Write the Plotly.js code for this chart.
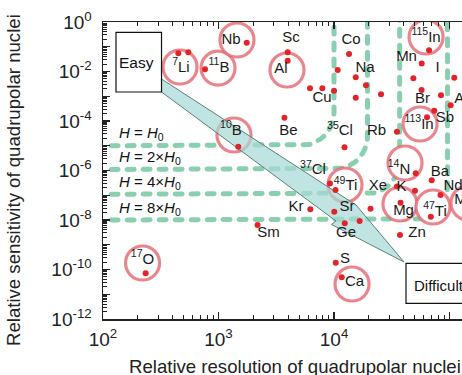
<!DOCTYPE html>
<html><head><meta charset="utf-8">
<script src="https://cdn.plot.ly/plotly-3.0.1.min.js"></script>
<style>html,body{margin:0;padding:0;background:#fff;}#chart{width:462px;height:375px;}</style>
</head><body><div id="chart"></div>
<script>
// ---- nuclei (red dots): resolution (x), sensitivity (y)
const dotX = [449, 548, 764, 1754, 3972, 3972, 13490, 10760, 15420, 18920, 25530, 15420,
  6194, 7925, 10000, 3724, 66530, 57410, 48640, 109900, 57280, 84330, 102300, 73790, 63830,
  35080, 12330, 1483, 50930, 70150, 35080, 50230, 83560, 9226, 10300, 20700, 6237, 10050,
  12390, 16670, 37670, 68870, 37240, 2178, 234, 10350, 11670];
const dotY = [0.0543, 0.0597, 0.0123, 0.146, 0.0597, 0.0273, 0.0509, 0.0115, 0.00583, 0.00277, 0.0012, 8.73e-4,
  2.09e-3, 2.09e-3, 1.67e-3, 1.36e-4, 0.0719, 0.0210, 5.36e-3, 5.61e-3, 1.79e-3, 1.10e-3, 4.31e-4, 2.58e-4, 1.41e-4,
  3.70e-5, 8.73e-6, 9.16e-6, 7.71e-7, 4.02e-7, 2.26e-7, 1.53e-7, 1.02e-7, 2.99e-7, 1.63e-7, 2.86e-8, 2.70e-8, 2.16e-8,
  7.36e-9, 9.12e-9, 5.00e-8, 1.36e-8, 2.48e-9, 6.28e-9, 7.02e-11, 1.88e-10, 4.84e-11];

// ---- element labels
const labelText = ['<sup>7</sup>Li', '<sup>11</sup>B', 'Nb', 'Al', 'Sc', 'Co', 'Na', 'Cu',
  '<sup>115</sup>In', 'Mn', 'I', 'Br', 'As', 'Sb', '<sup>113</sup>In', 'Rb', '<sup>35</sup>Cl', 'Be',
  '<sup>10</sup>B', '<sup>37</sup>Cl', '<sup>49</sup>Ti', '<sup>14</sup>N', 'Ba', 'Xe', 'K', 'Nd',
  'Kr', 'Sr', 'Mg', '<sup>47</sup>Ti', 'Mo', 'Ge', 'Zn', 'Sm', '<sup>17</sup>O', 'S', 'Ca'];
const labelX = [473, 1009, 1282, 3475, 4245, 14030, 18540, 7870,
  62670, 42460, 78700, 58340, 110000, 91450, 54450, 23330, 11270, 4036,
  1282, 6577, 12590, 36560, 82790, 24050, 38370, 88500,
  4690, 12970, 39990, 74820, 110000, 12700, 52360, 2710, 220, 12450, 15070];
const labelY = [0.0138, 0.0138, 0.1874, 0.0126, 0.2155, 0.1874, 0.0138, 8.11e-4,
  0.226, 0.0385, 0.0138, 7.74e-4, 7.74e-4, 1.26e-4, 6.89e-5, 3.77e-5, 3.77e-5, 3.94e-5,
  3.94e-5, 9.82e-7, 2.21e-7, 1.05e-6, 8.30e-7, 2.26e-7, 2.15e-7, 2.36e-7,
  3.20e-8, 3.20e-8, 2.31e-8, 2.11e-8, 6.2e-8, 2.85e-9, 2.99e-9, 2.85e-9, 2.42e-10, 2.58e-10, 3.13e-11];
const labelPos = labelText.map(t => (t === 'As' || t === 'Nd' || t === 'Mo') ? 'middle right' : 'middle center');

// ---- highlighted nuclei (circles)
const circleX = [464, 991, 1445, 3917, 62670, 55590, 1361, 12450, 41170, 37240, 71940, 144500, 220, 14320];
const circleY = [0.0152, 0.0138, 0.1874, 0.0115, 0.248, 7.57e-5, 2.72e-5, 2.60e-7, 2.01e-6, 4.43e-8, 3.35e-8, 4.86e-8, 1.83e-10, 2.59e-11];

// ---- magnetic field boundaries
const fieldNames = ['<i>H</i> = <i>H</i><sub>0</sub>', '<i>H</i> = 2×<i>H</i><sub>0</sub>',
  '<i>H</i> = 4×<i>H</i><sub>0</sub>', '<i>H</i> = 8×<i>H</i><sub>0</sub>'];
const fieldSensY = [1e-5, 1.1e-6, 1.1e-7, 1e-8];
const fieldResX = [1e4, 1.95e4, 3.7e4, 9.6e4];

// ---- axis ticks
const xTickVals = [1e2, 1e3, 1e4, 1e5];
const xTickText = ['10<sup>2</sup>', '10<sup>3</sup>', '10<sup>4</sup>', '10<sup>5</sup>'];
const yTickVals = [1e-12, 1e-11, 1e-10, 1e-9, 1e-8, 1e-7, 1e-6, 1e-5, 1e-4, 1e-3, 1e-2, 1e-1, 1];
const yTickText = ['10<sup>-12</sup>', '', '10<sup>-10</sup>', '', '10<sup>-8</sup>', '', '10<sup>-6</sup>', '',
  '10<sup>-4</sup>', '', '10<sup>-2</sup>', '', '10<sup>0</sup>'];

// ---- decoration: easy -> difficult arrow outline (log10 units)
const arrowLX = [2.5065, 4.1905, 4.606, 3.978, 4.017, 2.5065];
const arrowLY = [-2.303, -7.394, -9.697, -8.182, -8.040, -2.828];

const FONT = 'Liberation Sans, Arial, sans-serif';
const traces = [];

// field boundary curves (horizontal -> rounded corner -> vertical)
const rx = 0.29, ry = 1.36;
fieldNames.forEach((n, i) => {
  const lxv = Math.log10(fieldResX[i]), lyh = Math.log10(fieldSensY[i]);
  const xs = [2.07, lxv - rx], ys = [lyh, lyh];
  for (let k = 1; k <= 12; k++) {
    const t = k / 12 * Math.PI / 2;
    xs.push(lxv - rx + rx * Math.sin(t));
    ys.push(lyh + ry * (1 - Math.cos(t)));
  }
  xs.push(lxv); ys.push(0.3);
  traces.push({
    x: xs.map(v => Math.pow(10, v)), y: ys.map(v => Math.pow(10, v)),
    mode: 'lines', type: 'scatter', hoverinfo: 'skip',
    line: {color: 'rgb(138,208,176)', width: 5, dash: '7px,9px'}
  });
});

traces.push({
  x: circleX, y: circleY, mode: 'markers', type: 'scatter', hoverinfo: 'skip',
  marker: {symbol: 'circle', size: 34, color: '#ffffff', line: {color: 'rgba(228,104,112,0.8)', width: 3.2}}
});

traces.push({
  x: arrowLX.map(v => Math.pow(10, v)), y: arrowLY.map(v => Math.pow(10, v)),
  mode: 'lines', type: 'scatter', fill: 'toself', hoverinfo: 'skip',
  fillcolor: 'rgba(168,218,214,0.72)', line: {color: '#5f7f7c', width: 1}
});

traces.push({
  x: dotX, y: dotY, mode: 'markers', type: 'scatter', hoverinfo: 'skip',
  marker: {size: 6, color: '#e2232a'}
});

traces.push({
  x: labelX, y: labelY, text: labelText, mode: 'text', type: 'scatter', hoverinfo: 'skip',
  textposition: labelPos, textfont: {family: FONT, size: 15, color: '#1a1a1a'}
});

const annotations = [
  {xref: 'paper', yref: 'paper', x: 0.0669, y: -0.1606, xanchor: 'left', yanchor: 'middle', showarrow: false,
   text: 'Relative resolution of quadrupolar nuclei', font: {family: FONT, size: 18.6, color: '#222'}},
  {xref: 'paper', yref: 'paper', x: -0.2507, y: 0.468, xanchor: 'center', yanchor: 'middle', showarrow: false,
   textangle: -90, text: 'Relative sensitivity of quadrupolar nuclei', font: {family: FONT, size: 18.6, color: '#222'}},
  {xref: 'x', yref: 'y', x: 2.292, y: -1.628, showarrow: false, text: 'Easy',
   font: {family: FONT, size: 15.5, color: '#111'}},
  {xref: 'x', yref: 'y', x: 4.671, y: -10.655, xanchor: 'left', showarrow: false, text: 'Difficult',
   font: {family: FONT, size: 15, color: '#111'}}
];
fieldNames.forEach((n, i) => {
  annotations.push({xref: 'x', yref: 'y', x: 2.121, y: Math.log10(fieldSensY[i]), yshift: 12,
    xanchor: 'left', yanchor: 'middle', showarrow: false, text: n,
    font: {family: FONT, size: 15, color: '#111'}});
});

// boxes (paper coordinates)
const shapes = [
  {type: 'rect', xref: 'paper', yref: 'paper', x0: 0.0362, x1: 0.163, y0: 0.7643, y1: 0.9653,
   fillcolor: '#fff', line: {color: '#111', width: 1.2}, layer: 'above'},
  {type: 'rect', xref: 'paper', yref: 'paper', x0: 0.844, x1: 1.06, y0: 0.0529, y1: 0.1875,
   fillcolor: '#fff', line: {color: '#111', width: 1.2}, layer: 'above'}
];

const axisCommon = {
  type: 'log', tickmode: 'array', ticks: 'inside', ticklen: 7, tickwidth: 1.3, tickcolor: '#222',
  showline: true, linecolor: '#222', linewidth: 1.5, showgrid: false, zeroline: false,
  tickfont: {family: FONT, size: 19, color: '#222'},
  minor: {dtick: 'D1', ticks: 'inside', ticklen: 4, tickwidth: 1, tickcolor: '#222', showgrid: false}
};

const layout = {
  width: 462, height: 375, margin: {l: 103, r: 0, t: 22, b: 56},
  paper_bgcolor: '#fff', plot_bgcolor: '#fff', showlegend: false,
  xaxis: Object.assign({}, axisCommon, {range: [2, 5.108], tickvals: xTickVals, ticktext: xTickText,
    mirror: 'allticks', ticklabelstandoff: 3}),
  yaxis: Object.assign({}, axisCommon, {range: [-12, 0], tickvals: yTickVals, ticktext: yTickText,
    mirror: false, ticklabelstandoff: 6}),
  annotations: annotations, shapes: shapes
};

Plotly.newPlot('chart', traces, layout, {staticPlot: true}).then(() => {
  const groups = document.querySelectorAll('.scatterlayer .trace');
  groups.forEach((g, i) => {
    if (i < fieldNames.length) g.querySelectorAll('path.js-line').forEach(p => { p.style.strokeLinecap = 'round'; });
  });
});
</script>
</body></html>
